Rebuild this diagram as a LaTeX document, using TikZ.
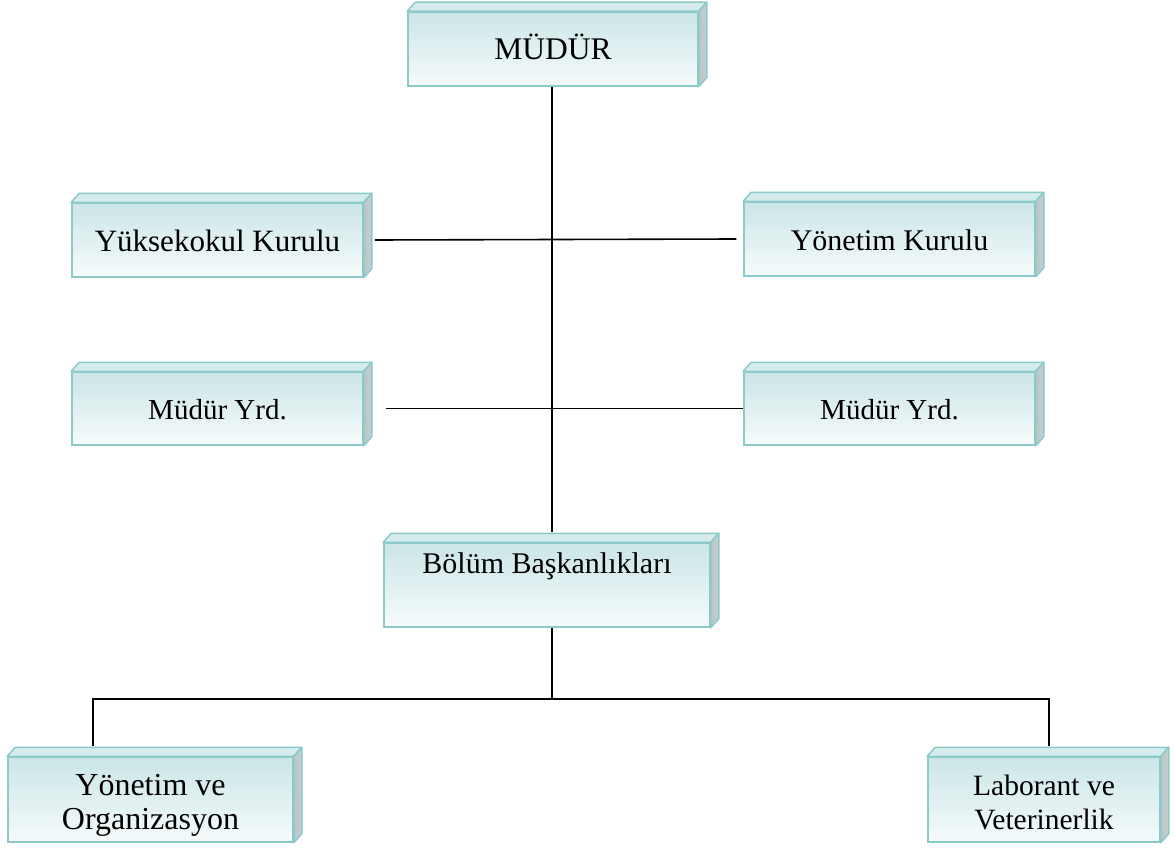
\documentclass[tikz,border=0pt]{standalone}
\usepackage{fontspec}
\setmainfont{Liberation Serif}
\usetikzlibrary{calc}
\definecolor{boxline}{RGB}{140,202,202}
\definecolor{boxtop}{RGB}{203,229,231}
\definecolor{boxmid}{RGB}{212,234,235}
\definecolor{boxbot}{RGB}{246,251,251}
\definecolor{topface}{RGB}{214,236,236}
\definecolor{sideface}{RGB}{188,198,198}
\tikzset{
  orgbox/.style={draw=boxline, line width=1.5pt, rectangle, inner sep=0pt,
    top color=boxtop, middle color=boxmid, bottom color=boxbot,
    font=\fontsize{30}{34}\selectfont, text height=22pt, text depth=0pt},
  twoline/.style={align=center, text height=, text depth=},
  topfc/.style={fill=topface, draw=boxline, line width=1.5pt, line join=round},
  sidefc/.style={left color=sideface, right color=sideface!85!white, draw=boxline, line width=1.5pt, line join=round},
  conn/.style={line width=1.6pt, black}
}
\newcommand\facesof[1]{%
  \path[topfc] (#1.north west) -- ++(8,-9) -- ($(#1.north east)+(8,-9)$) -- (#1.north east) -- cycle;
  \path[sidefc] (#1.north east) -- ++(8,-9) -- ($(#1.south east)+(8,-9)$) -- (#1.south east) -- cycle;
}
\newcommand\topstrut{\rule{0pt}{32pt}}
\newcommand\botstrut{\rule[-7pt]{0pt}{7pt}}
\begin{document}
\begin{tikzpicture}[x=1pt,y=-1pt]
\clip (0,0) rectangle (1175,848);
\fill[white] (0,0) rectangle (1175,848);
% boxes (front faces)
\node[orgbox, minimum width=290pt, minimum height=74pt, font=\fontsize{31.5}{34}\selectfont] (m) at (553,49) {MÜDÜR};
\node[orgbox, minimum width=291pt, minimum height=74pt, font=\fontsize{31}{34}\selectfont] (yk) at (217.5,240) {Yüksekokul Kurulu};
\node[orgbox, minimum width=291pt, minimum height=74pt] (yon) at (889.5,239) {Yönetim Kurulu};
\node[orgbox, minimum width=291pt, minimum height=73pt, font=\fontsize{29}{34}\selectfont] (my1) at (217.5,408.5) {Müdür Yrd.};
\node[orgbox, minimum width=291pt, minimum height=73pt, font=\fontsize{29}{34}\selectfont] (my2) at (889.5,408.5) {Müdür Yrd.};
\node[orgbox, minimum width=326pt, minimum height=84pt, text depth=46pt] (bb) at (547,585) {Bölüm Başkanlıkları};
\node[orgbox, twoline, minimum width=285pt, minimum height=85pt, font=\fontsize{32}{34}\selectfont] (yo) at (150.5,799.5) {\topstrut Yönetim ve\\Organizasyon\botstrut};
\node[orgbox, twoline, minimum width=232pt, minimum height=85pt, font=\fontsize{29.5}{34}\selectfont] (lv) at (1044,799.5) {\topstrut Laborant ve\\Veterinerlik\botstrut};
\facesof{m}
\facesof{yk}
\facesof{yon}
\facesof{my1}
\facesof{my2}
\facesof{bb}
\facesof{yo}
\facesof{lv}
% connectors
\coordinate (hub) at (552,699);
\coordinate (hl) at (93,699);
\coordinate (hr) at (1049,699);
\draw[conn] (hub |- m.south) -- ([yshift=10pt]hub |- bb.north);
\draw[conn] ([xshift=11pt]yk.east) -- ([xshift=-7pt]yon.west);
\draw[conn] ([xshift=22pt]my1.east) -- (my2.west);
\draw[conn] (hub |- bb.south) -- (hub);
\draw[conn] ([yshift=10pt]hl |- yo.north) -- (hl) -- (hr) -- ([yshift=10pt]hr |- lv.north);
\end{tikzpicture}
\end{document}
